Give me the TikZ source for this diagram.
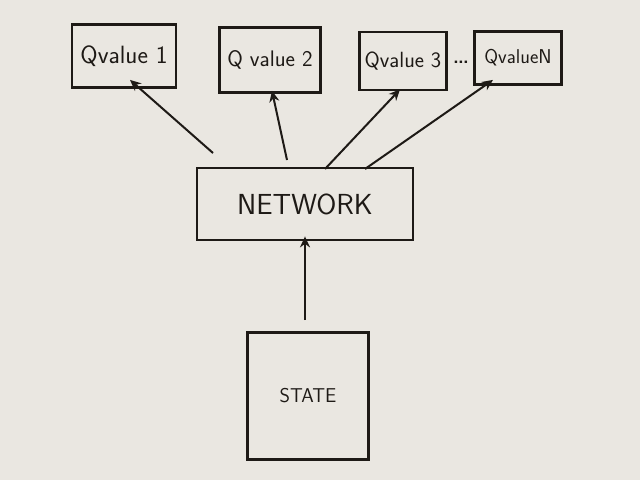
\documentclass[tikz,border=0pt]{standalone}
\usepackage{xcolor}
\definecolor{paper}{RGB}{234, 231, 225}
\definecolor{ink}{RGB}{30, 26, 22}
\usepackage{tikz}
\usetikzlibrary{arrows.meta}

\begin{document}
\begin{tikzpicture}[x=1pt, y=-1pt]
  \fill[paper] (0,0) rectangle (640,480);

  \node[draw=ink, line width=2.8pt, minimum width=104pt, minimum height=63pt,
        inner sep=2pt, font=\fontsize{25}{27}\selectfont\sffamily\color{ink}]
        (q1) at (124,56) {Qvalue 1};
  \node[draw=ink, line width=2.8pt, minimum width=101pt, minimum height=65pt,
        inner sep=2pt, font=\fontsize{22.5}{25}\selectfont\sffamily\color{ink}]
        (q2) at (270,60) {Q value 2};
  \node[draw=ink, line width=2.8pt, minimum width=87pt, minimum height=58pt,
        inner sep=2pt, font=\fontsize{22}{24}\selectfont\sffamily\color{ink}]
        (q3) at (403,61) {Qvalue 3};
  \node[draw=ink, line width=2.8pt, minimum width=87pt, minimum height=53pt,
        inner sep=2pt, font=\fontsize{20}{22}\selectfont\sffamily\color{ink}]
        (qn) at (518,58) {QvalueN};
  \node[inner sep=0pt, font=\fontsize{30}{32}\selectfont\sffamily\color{ink}]
        (dots) at (461,62) {\dots};

  \node[draw=ink, line width=2.8pt, minimum width=216pt, minimum height=72pt,
        font=\fontsize{29}{32}\selectfont\sffamily\color{ink}]
        (net) at (305,204) {NETWORK};
  \node[draw=ink, line width=2.8pt, minimum width=121pt, minimum height=127pt,
        font=\fontsize{20}{23}\selectfont\sffamily\color{ink}]
        (state) at (308,396) {STATE};

  \coordinate (s1) at (213,153);
  \coordinate (s2) at (287,160);
  \coordinate (s3) at (325,169);
  \coordinate (s4) at (365,169);
  \coordinate (s5) at (305,320);

  \draw[-{Stealth[length=11pt, width=10pt]}, line width=2pt, color=ink]
    (s1) -- ([xshift=6, yshift=9]q1.south);
  \draw[-{Stealth[length=11pt, width=10pt]}, line width=2pt, color=ink]
    (s2) -- ([xshift=2, yshift=3]q2.south);
  \draw[-{Stealth[length=11pt, width=10pt]}, line width=2pt, color=ink]
    (s3) -- ([xshift=-3, yshift=2]q3.south);
  \draw[-{Stealth[length=11pt, width=10pt]}, line width=2pt, color=ink]
    (s4) -- ([xshift=-25, yshift=6]qn.south);
  \draw[-{Stealth[length=11pt, width=10pt]}, line width=2pt, color=ink]
    (s5) -- ([yshift=5]net.south);
\end{tikzpicture}
\end{document}
